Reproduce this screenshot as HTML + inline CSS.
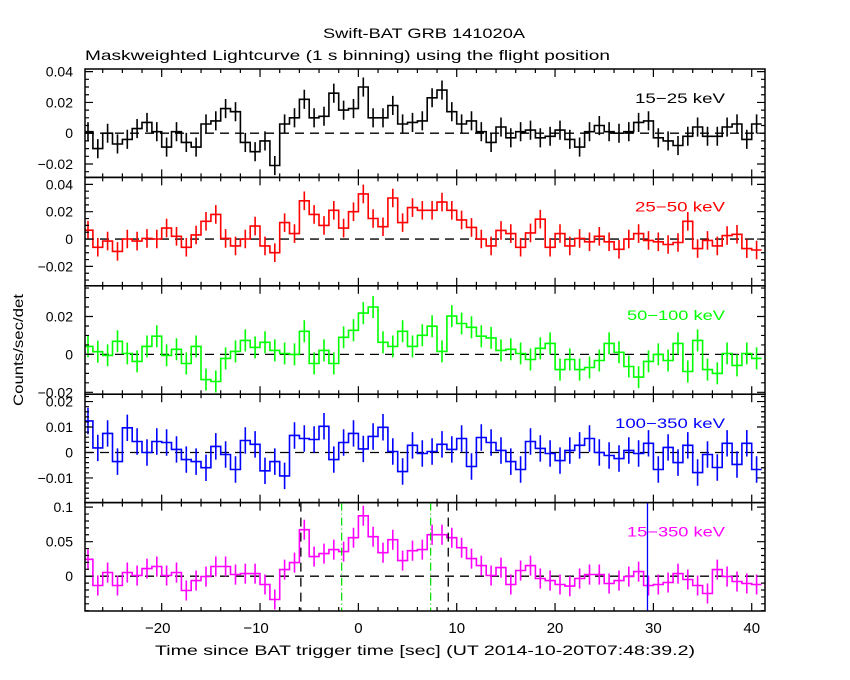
<!DOCTYPE html>
<html><head><meta charset="utf-8">
<style>
html,body{margin:0;padding:0;background:#fff;}
svg{display:block;font-family:"Liberation Sans",sans-serif;}
</style></head>
<body>
<svg id="chart" width="850" height="680" viewBox="0 0 850 680" xmlns="http://www.w3.org/2000/svg">
<rect width="850" height="680" fill="#fff"/>
<text x="323" y="38" textLength="202" lengthAdjust="spacingAndGlyphs" font-size="14" fill="#000">Swift-BAT GRB 141020A</text>
<text x="85" y="60" textLength="525" lengthAdjust="spacingAndGlyphs" font-size="14" fill="#000">Maskweighted Lightcurve (1 s binning) using the flight position</text>
<text transform="translate(23,350) rotate(-90)" text-anchor="middle" textLength="112" lengthAdjust="spacingAndGlyphs" font-size="14" fill="#000">Counts/sec/det</text>
<text x="155" y="655" textLength="540" lengthAdjust="spacingAndGlyphs" font-size="14" fill="#000">Time since BAT trigger time [sec] (UT 2014-10-20T07:48:39.2)</text>
<g id="plots"></g>
</svg>
<script>
const binStarts = [-28,-27,-26,-25,-24,-23,-22,-21,-20,-19,-18,-17,-16,-15,-14,-13,-12,-11,-10,-9,-8,-7,-6,-5,-4,-3,-2,-1,0,1,2,3,4,5,6,7,8,9,10,11,12,13,14,15,16,17,18,19,20,21,22,23,24,25,26,27,28,29,30,31,32,33,34,35,36,37,38,39,40];
const rate15_25 = [0.001,-0.010,0,-0.007,-0.004,0.003,0.007,0.001,-0.009,0.001,-0.006,-0.009,0.006,0.008,0.016,0.014,-0.006,-0.012,-0.005,-0.021,0.006,0.010,0.022,0.010,0.011,0.026,0.015,0.016,0.030,0.010,0.010,0.018,0.006,0.007,0.008,0.023,0.028,0.014,0.006,0.008,0.001,-0.006,0.004,-0.003,0.001,0.002,-0.003,-0.002,0.002,-0.004,-0.009,0.001,0.005,0.001,0,0.001,0.007,0.008,-0.003,-0.005,-0.008,-0.002,0.004,-0.002,-0.002,0.004,0.006,-0.004,0.006];
const rate25_50 = [0.0065,-0.006,-0.0015,-0.009,0,-0.0015,0.0005,0,0.008,0.002,-0.006,0.003,0.013,0.018,0.0005,-0.005,0,0.0095,-0.005,-0.010,0.012,0.004,0.028,0.018,0.010,0.021,0.008,0.020,0.033,0.015,0.009,0.030,0.012,0.023,0.021,0.021,0.027,0.021,0.014,0.0085,0,-0.005,0.0063,0.004,-0.006,0.0045,0.0145,-0.006,0.004,-0.005,0.0005,-0.002,0.002,-0.002,-0.0075,0,0.004,-0.001,-0.002,-0.004,-0.0025,0.013,-0.007,-0.001,-0.005,0.0025,0.0035,-0.007,-0.008];
const rate50_100 = [0.0042,0.0014,-0.0005,0.0069,0.0005,-0.0037,0.0042,0.0096,-0.0005,0.0027,-0.0048,0.0042,-0.0133,-0.0143,-0.0021,0.0016,0.0074,0.0037,0.0064,0.0021,0.0005,0,0.0122,-0.0048,0.0021,-0.0048,0.009,0.0127,0.0218,0.025,0.0064,0.0042,0.0122,0.0042,0.0101,0.0149,0.0016,0.0202,0.0163,0.0143,0.0096,0.0087,0.0021,0.0027,0.0005,-0.0027,0.0032,0.0058,-0.008,-0.0027,-0.008,-0.0069,-0.0032,0.0058,0.0011,-0.0064,-0.012,-0.0037,0,-0.0032,0.0058,-0.009,0.0074,-0.008,-0.010,0.0005,-0.0058,0.0005,-0.0021];
const rate100_350 = [0.0124,0.0018,0.0075,-0.0036,0.0097,0.0043,0,0.0043,0.0039,0.0012,-0.0028,-0.0036,-0.006,0.0024,-0.0008,-0.0067,0.0047,0.0032,-0.0072,-0.0036,-0.0092,0.0067,0.0055,0.0051,0.0103,-0.0028,0.0039,0.0075,0.0014,0.0063,0.0099,0.0004,-0.0075,0.0028,-0.0004,0.0004,0.0032,0.0012,0.0055,-0.0055,0.0059,0.0039,0.0008,-0.0036,-0.0067,0.0043,0.0016,-0.0004,-0.0032,0.0008,0.0028,0.0055,0,-0.0012,-0.0024,0.0008,-0.0004,0.0036,-0.0067,0.002,-0.004,0.0028,-0.0079,-0.0008,-0.0059,0.0036,-0.0047,0.0036,-0.0067];
const rate15_350 = [0.0245,-0.0135,0.0053,-0.0135,0.0053,0.001,0.011,0.014,0.001,0.0053,-0.0207,-0.0063,-0.0005,0.014,0.014,0.0024,0.0038,0.0038,-0.012,-0.0337,0.0096,0.0197,0.0673,0.0284,0.0327,0.0385,0.0356,0.0558,0.0875,0.0572,0.0341,0.0529,0.0226,0.037,0.0385,0.0601,0.0601,0.0558,0.0413,0.0255,0.0154,0.001,0.0125,-0.012,0.0082,0.0154,-0.0034,-0.0063,-0.012,-0.0144,-0.0034,0.0024,0.0024,-0.0106,-0.0063,-0.0005,0.0067,-0.0135,-0.012,-0.0091,0.0038,-0.0048,-0.0135,-0.025,0.0096,-0.0005,-0.0077,-0.0106,-0.012];
const errs = [0.0062,0.0068,0.0058,0.0052,0.0145];
const bandLabels = ["15\u221225 keV","25\u221250 keV","50\u2212100 keV","100\u2212350 keV","15\u2212350 keV"];
const xTickLabels = [-20,-10,0,10,20,30,40];
const yTickLabels = [[0.04,0.02,0,-0.02],[0.04,0.02,0,-0.02],[0.02,0,-0.02],[0.02,0.01,0,-0.01],[0.1,0.05,0]];
const yTickText = [["0.04","0.02","0","\u22120.02"],["0.04","0.02","0","\u22120.02"],["0.02","0","\u22120.02"],["0.02","0.01","0","\u22120.01"],["0.1","0.05","0"]];
const vlinesDashed = [-5.85,9.14];
const vlinesDashDot = [-1.7,7.35];
const vlineSolid = [29.4];

const series=[rate15_25,rate25_50,rate50_100,rate100_350,rate15_350];
const colors=["#000000","#ff0000","#00ff00","#0000ff","#ff00ff"];
const yRanges=[[-0.0287,0.0417],[-0.0342,0.0451],[-0.021,0.0362],[-0.0197,0.0229],[-0.0504,0.1066]];
const minorSteps=[0.005,0.005,0.005,0.002,0.01];
const panelNames=["panel-15-25","panel-25-50","panel-50-100","panel-100-350","panel-15-350"];
const labelLens=[90,90,98,110,98];
const L=85,R=765,TOP=69,BOT=611,PH=(BOT-TOP)/5;
const xmin=-27.8,xmax=41.35;
const NS="http://www.w3.org/2000/svg";
const X=t=>L+(t-xmin)/(xmax-xmin)*(R-L);
const root=document.getElementById('plots');
function mk(tag,attrs,parent){const e=document.createElementNS(NS,tag);for(const k in attrs)e.setAttribute(k,attrs[k]);(parent||root).appendChild(e);return e;}
const defs=mk('defs',{});
for(let p=0;p<5;p++){
  const top=TOP+p*PH,bot=top+PH;
  const [y0,y1]=yRanges[p];
  const Y=v=>bot-(v-y0)/(y1-y0)*PH;
  const cp=mk('clipPath',{id:'c'+p},defs);
  mk('rect',{x:L,y:top,width:R-L,height:PH},cp);
  const g=mk('g',{});
  
  
  const inner=mk('g',{'clip-path':'url(#c'+p+')'},g);
  const z=mk('line',{x1:L,x2:R,y1:Y(0),y2:Y(0),stroke:'#000','stroke-width':1.3,'stroke-dasharray':'9,6'},inner);
  
  
  const data=series[p];
  let d='';
  for(let i=0;i<binStarts.length;i++){
    const xa=X(binStarts[i]),xb=X(binStarts[i]+1),y=Y(data[i]);
    d+=(i===0?'M':'L')+xa.toFixed(1)+','+y.toFixed(1)+'L'+xb.toFixed(1)+','+y.toFixed(1);
  }
  const st=mk('path',{d:d,fill:'none',stroke:colors[p],'stroke-width':1.6},inner);
  
  
  let ed='';
  for(let i=0;i<binStarts.length;i++){
    const xc=X(binStarts[i]+0.5);
    ed+='M'+xc.toFixed(1)+','+Y(data[i]+errs[p]).toFixed(1)+'L'+xc.toFixed(1)+','+Y(data[i]-errs[p]).toFixed(1);
  }
  const eb=mk('path',{d:ed,fill:'none',stroke:colors[p],'stroke-width':1.6},inner);
  
  
  if(p===4){
    vlinesDashed.forEach(t=>{const l=mk('line',{x1:X(t),x2:X(t),y1:top,y2:bot,stroke:'#000','stroke-width':1.3,'stroke-dasharray':'9,6'},inner);});
    vlinesDashDot.forEach(t=>{const l=mk('line',{x1:X(t),x2:X(t),y1:top,y2:bot,stroke:'#00dd00','stroke-width':1.2,'stroke-dasharray':'8,3,1,3'},inner);});
    vlineSolid.forEach(t=>{const l=mk('line',{x1:X(t),x2:X(t),y1:top,y2:bot,stroke:'#0000ff','stroke-width':1.3},inner);});
  }
  mk('rect',{x:L,y:top,width:R-L,height:PH,fill:'none',stroke:'#000','stroke-width':1.5},g);
  let td='';
  for(let t=-26;t<=40;t+=2){
    const x=X(t);const len=(t%10===0)?8:4;
    td+='M'+x+','+bot+'v'+(-len)+'M'+x+','+top+'v'+len;
  }
  const ms=minorSteps[p];
  for(let k=Math.ceil(y0/ms);k*ms<=y1;k++){
    const v=k*ms;const y=Y(v);
    const major=yTickLabels[p].some(m=>Math.abs(m-v)<1e-9);
    const len=major?8:4;
    td+='M'+L+','+y+'h'+len+'M'+R+','+y+'h'+(-len);
  }
  mk('path',{d:td,stroke:'#000','stroke-width':1.2,fill:'none'},g);
  yTickLabels[p].forEach((v,j)=>{
    const y=Y(v);
    if(y<top-2||y>bot+8)return;
    const tx=mk('text',{x:73,y:y+5,'text-anchor':'end','font-size':14,fill:'#000'},g);
    tx.textContent=yTickText[p][j];
    
    
  });
  const bl=mk('text',{x:725,y:top+34,'text-anchor':'end','font-size':14,textLength:labelLens[p],lengthAdjust:'spacingAndGlyphs',fill:colors[p]},g);
  bl.textContent=bandLabels[p];
  
  
}
xTickLabels.forEach(t=>{
  const tx=mk('text',{x:X(t)-(t<0?4:0),y:633,'text-anchor':'middle','font-size':15,fill:'#000'});
  tx.textContent=t<0?'\u2212'+(-t):String(t);
  
  
});
</script>
</body></html>
